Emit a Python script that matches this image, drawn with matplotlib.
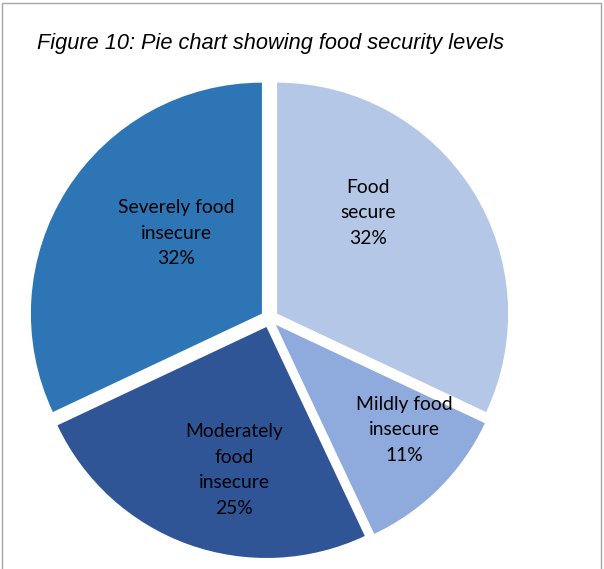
import matplotlib.pyplot as plt
from matplotlib.patches import Rectangle

categories = ['Food\nsecure', 'Mildly food\ninsecure', 'Moderately\nfood\ninsecure', 'Severely food\ninsecure']
shares = [32, 11, 25, 32]
colors = ['#B4C7E7', '#8FAADC', '#2F5597', '#2E75B6']

# where Excel put each data label (pie radius = 1)
label_pos = [(0.426, 0.457), (0.582, -0.481), (-0.152, -0.656), (-0.405, 0.370)]

fig = plt.figure(figsize=(6.04, 5.69), dpi=100)
fig.patch.set_facecolor('white')

# outer frame of the chart box
fig.add_artist(Rectangle((2/604, -0.01), 599/604, 1 - 3/569 + 0.01, transform=fig.transFigure,
                         fill=False, edgecolor='#A6A6A6', linewidth=1.0))

fig.text(37/604, 1 - 43/569, 'Figure 10: Pie chart showing food security levels',
         family=['Liberation Sans Narrow', 'Liberation Sans'], style='italic',
         fontsize=15.7, va='center', ha='left', color='black')

ax = fig.add_axes([0.0255, -0.0063, 0.8414, 0.8931])
wedges, _ = ax.pie(shares, colors=colors, startangle=90, counterclock=False,
                   explode=[0.039] * len(shares), radius=1.0)
ax.set_xlim(-1.1, 1.1)
ax.set_ylim(-1.1, 1.1)
ax.set_aspect('equal')
ax.axis('off')

for name, val, (x, y) in zip(categories, shares, label_pos):
    ax.text(x, y, '%s\n%d%%' % (name, val), ha='center', va='center',
            family=['Lato', 'DejaVu Sans'], fontsize=13.9, color='black', linespacing=1.6)

fig.savefig('out.png', dpi=100)
